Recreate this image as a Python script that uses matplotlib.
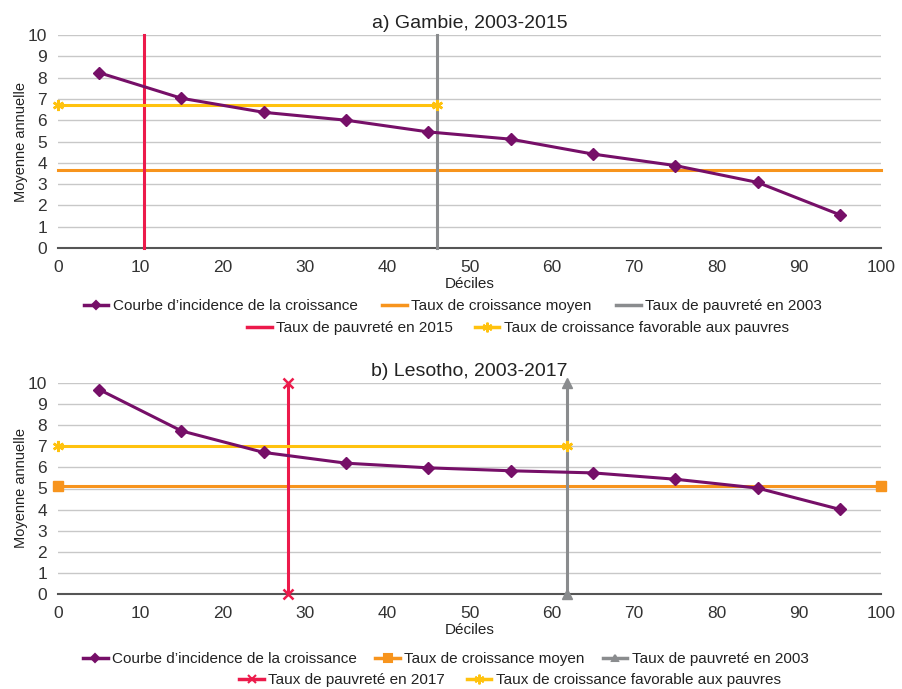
import matplotlib
matplotlib.use("Agg")
import matplotlib.pyplot as plt
from matplotlib.lines import Line2D

plt.rcParams['font.family'] = ['Liberation Sans', 'DejaVu Sans']

# ---- data ----
deciles = [5, 15, 25, 35, 45, 55, 65, 75, 85, 95]
gambie_gic = [8.23, 7.03, 6.37, 6.00, 5.45, 5.11, 4.41, 3.87, 3.08, 1.56]
gambie_mean = 3.67
gambie_pov_start = 46.1   # 2003
gambie_pov_end = 10.4     # 2015
gambie_propoor = 6.72

lesotho_gic = [9.69, 7.73, 6.71, 6.20, 5.98, 5.84, 5.74, 5.44, 5.02, 4.01]
lesotho_mean = 5.14
lesotho_pov_start = 61.9  # 2003
lesotho_pov_end = 27.9    # 2017
lesotho_propoor = 7.0

titles = ["a) Gambie, 2003-2015", "b) Lesotho, 2003-2017"]
xticks = [0, 10, 20, 30, 40, 50, 60, 70, 80, 90, 100]
yticks = list(range(0, 11))

PURPLE = '#760F68'
ORANGE = '#F7941D'
GRAY = '#8A8C8E'
RED = '#EC1A4B'
YELLOW = '#FFC20E'

fig = plt.figure(figsize=(9.03, 6.89), dpi=100)
W, H = 903, 689

def ax_rect(x0, x1, ytop, ybot):
    return [x0 / W, 1 - ybot / H, (x1 - x0) / W, (ybot - ytop) / H]

ax1 = fig.add_axes(ax_rect(58, 881, 35, 248))
ax2 = fig.add_axes(ax_rect(58, 881, 383, 594))

def style(ax, title):
    ax.set_xlim(0, 100)
    ax.set_ylim(0, 10)
    ax.set_xticks(xticks)
    ax.set_yticks(yticks)
    ax.set_xticklabels([str(t) for t in xticks], fontsize=12.5)
    ax.set_yticklabels([str(t) for t in yticks], fontsize=12.5)
    ax.tick_params(length=0, colors='#333333')
    ax.tick_params(axis='y', pad=8)
    ax.tick_params(axis='x', pad=9)
    for s in ['top', 'right', 'left']:
        ax.spines[s].set_visible(False)
    ax.spines['bottom'].set_color('#555555')
    ax.spines['bottom'].set_linewidth(1.5)
    ax.spines['bottom'].set_zorder(1)
    ax.yaxis.grid(True, color='#C8C8C8', linewidth=1)
    ax.set_axisbelow(True)
    ax.set_title(title, fontsize=14, color='#222222', pad=5)
    ax.set_ylabel('Moyenne annuelle', fontsize=10.5, color='#222222', labelpad=0)
    ax.set_xlabel('Déciles', fontsize=11, color='#222222', labelpad=1)

style(ax1, titles[0])
style(ax2, titles[1])

lw = 2.2

# ---- panel a ----
ax1.plot([0, 100], [gambie_mean, gambie_mean], color=ORANGE, lw=lw, clip_on=False, zorder=3)
ax1.plot([gambie_pov_start, gambie_pov_start], [0, 10], color=GRAY, lw=lw, clip_on=False, zorder=3)
ax1.plot([gambie_pov_end, gambie_pov_end], [0, 10], color=RED, lw=lw, clip_on=False, zorder=3)
ax1.plot([0, gambie_pov_start], [gambie_propoor, gambie_propoor], color=YELLOW, lw=lw,
         marker=(6, 2, 0), ms=8, mew=1.8, clip_on=False, zorder=4)
ax1.plot(deciles, gambie_gic, color=PURPLE, lw=lw, marker='D', ms=6, clip_on=False, zorder=5)

# ---- panel b ----
ax2.plot([0, 100], [lesotho_mean, lesotho_mean], color=ORANGE, lw=lw, marker='s', ms=7,
         clip_on=False, zorder=3)
ax2.plot([lesotho_pov_start, lesotho_pov_start], [0, 10], color=GRAY, lw=lw, marker='^', ms=7,
         clip_on=False, zorder=3)
ax2.plot([lesotho_pov_end, lesotho_pov_end], [0, 10], color=RED, lw=lw, marker='x', ms=7, mew=1.8,
         clip_on=False, zorder=3)
ax2.plot([0, lesotho_pov_start], [lesotho_propoor, lesotho_propoor], color=YELLOW, lw=lw,
         marker=(6, 2, 0), ms=8, mew=1.8, clip_on=False, zorder=4)
ax2.plot(deciles, lesotho_gic, color=PURPLE, lw=lw, marker='D', ms=6, clip_on=False, zorder=5)

# ---- legends ----
def h(color, marker=None, ms=6, mew=1.5):
    return Line2D([], [], color=color, lw=2.5, marker=marker, ms=ms, mew=mew)

labels_row1 = ['Courbe d\u2019incidence de la croissance', 'Taux de croissance moyen',
               'Taux de pauvreté en 2003']

def add_legend(handles, labels, cx, ycen, gap):
    lg = fig.legend(handles, labels, loc='center', bbox_to_anchor=(cx / W, 1 - ycen / H),
                    ncol=len(labels), frameon=False, fontsize=11, handlelength=1.6,
                    handletextpad=0.3, columnspacing=gap, borderpad=0, borderaxespad=0)
    for t in lg.get_texts():
        t.set_color('#222222')
    return lg

add_legend([h(PURPLE, 'D', 4), h(ORANGE), h(GRAY)], labels_row1, 453, 306, 1.6)
add_legend([h(RED), h(YELLOW, (6, 2, 0), 7)],
           ['Taux de pauvreté en 2015', 'Taux de croissance favorable aux pauvres'], 518, 328, 1.4)

add_legend([h(PURPLE, 'D', 4), h(ORANGE, 's', 6), h(GRAY, '^', 5)], labels_row1, 446, 659, 1.2)
add_legend([h(RED, 'x', 6), h(YELLOW, (6, 2, 0), 7)],
           ['Taux de pauvreté en 2017', 'Taux de croissance favorable aux pauvres'], 510, 680, 1.4)

fig.savefig('out.png', dpi=100)
